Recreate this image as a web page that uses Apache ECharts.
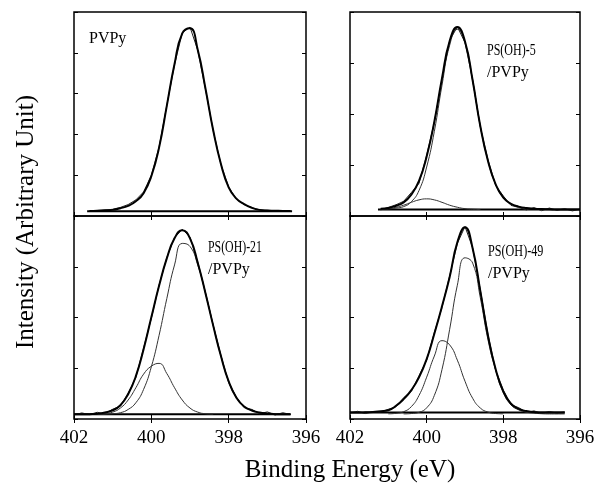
<!DOCTYPE html>
<html>
<head>
<meta charset="utf-8">
<script src="https://cdn.jsdelivr.net/npm/echarts/dist/echarts.min.js"></script>
<style>
html,body{margin:0;padding:0;background:#fff;}
#chart{width:594px;height:487px;}
</style>
</head>
<body>
<div id="chart"></div>
<script>
// binding energy grid (eV), shared by every panel
var energy = [402.0, 401.8, 401.6, 401.4, 401.2, 401.0, 400.8, 400.6, 400.4, 400.2,
	400.0, 399.8, 399.6, 399.4, 399.2, 399.0, 398.8, 398.6, 398.4, 398.2,
	398.0, 397.8, 397.6, 397.4, 397.2, 397.0, 396.8, 396.6, 396.4, 396.2, 396.0];
var xTicks = [402, 400, 398, 396];

// PVPy
var tlFit = [null, null, 2.5, 2.6, 2.8, 3.0, 3.8, 5.0, 7.2, 11.2, 19.5, 33.5, 54, 74.5, 89.5, 92, 81.5, 62.5, 42, 25.5, 14, 8.5, 5.8, 4.0, 3.0, 2.7, 2.6, 2.5, 2.5, null, null];
var tlRaw = [null, null, 2.4, 2.7, 2.9, 3.3, 4.2, 5.6, 7.9, 11.8, 20, 33.8, 54.2, 74.2, 89.8, 92.6, 81.3, 62.2, 41.8, 25.3, 14.2, 8.3, 5.6, 4.1, 3.0, 2.8, 2.5, 2.6, 2.5, null, null];
var tlBase = [[401.66, 2.3], [396.36, 2.3]];

// PS(OH)-5/PVPy
var trFit = [null, null, null, null, 3.5, 3.9, 5.0, 6.7, 10.5, 17.2, 29.2, 46.2, 67.6, 85.8, 92.6, 85.5, 66.4, 44, 27, 15.5, 9.0, 6.0, 4.6, 3.9, 3.6, 3.4, 3.3, 3.2, 3.2, 3.2, 3.2];
var trMain = [null, null, null, null, 3.4, 3.5, 3.9, 4.6, 7.0, 12.5, 24.0, 41.5, 64.1, 83.7, 91.5, 85.1, 66.2, 44, 27, 15.5, 9.0, 6.0, 4.6, 3.9, 3.6, 3.4, 3.3, 3.2, 3.2, 3.2, 3.2];
var trSide = [null, null, null, null, 3.35, 3.6, 4.3, 5.3, 6.7, 7.9, 8.4, 7.9, 6.7, 5.3, 4.3, 3.6, 3.35, 3.2, null, null, null, null, null, null, null, null, null, null, null, null, null];
var trRaw = [null, null, null, null, 3.0, 4.2, 5.5, 7.2, 11.5, 16.0, 29.8, 46.0, 67.0, 86.0, 92.8, 85.0, 66.8, 43.6, 27.5, 15.0, 9.8, 5.2, 4.2, 3.0, 4.1, 2.6, 3.9, 2.8, 3.6, 2.5, 3.4];
var trBase = [[401.27, 3.2], [396.0, 3.2]];

// PS(OH)-21/PVPy
var blFit = [2.3, 2.3, 2.4, 2.6, 3.2, 4.3, 6.8, 12.2, 21.1, 34.4, 50.1, 65.6, 79.1, 89.0, 93.0, 89.0, 77.0, 62.0, 46.0, 31.0, 18.5, 10.5, 6.2, 4.2, 3.2, 2.7, 2.4, 2.3, 2.3, null, null];
var blMain = [2.3, 2.3, 2.3, 2.3, 2.4, 2.6, 3.1, 4.7, 8.0, 14.6, 25.7, 41.2, 59.3, 75.9, 86.5, 85.0, 75.9, 62.0, 46.0, 31.0, 18.5, 10.5, 6.2, 4.2, 3.2, 2.7, 2.4, 2.3, 2.3, null, null];
var blSide = [null, null, null, 2.3, 2.6, 3.4, 5.4, 9.35, 15.4, 22.1, 26.0, 27.4, 22.4, 15.4, 9.35, 5.4, 3.4, 2.6, 2.4, null, null, null, null, null, null, null, null, null, null, null, null];
var blRaw = [2.0, 3.0, 2.2, 3.3, 2.6, 4.8, 6.4, 12.8, 20.5, 35.0, 49.6, 66.0, 79.5, 89.5, 93.5, 89.6, 77.4, 62.3, 46.3, 31.3, 18.0, 10.8, 5.6, 4.7, 2.6, 3.5, 2.0, 3.1, 2.2, null, null];
var blBase = [[402.0, 2.3], [396.4, 2.3]];

// PS(OH)-49/PVPy
var brFit = [3.2, 3.2, 3.3, 3.5, 3.8, 4.3, 6.5, 9.8, 14.2, 20.5, 29.5, 42, 55.5, 70, 87, 94.5, 84, 63, 41, 24.5, 13.5, 7.5, 5.0, 3.9, 3.4, 3.2, 3.2, 3.2, 3.2, null, null];
var brMain = [null, null, null, null, null, null, null, 2.5, 2.7, 3.3, 5.5, 11.6, 24.4, 44.2, 65.9, 79.4, 76.8, 59.7, 39, 24, 13, 7, 4.5, 3.4, 2.9, 2.6, 2.5, 2.5, 2.5, null, null];
var brSide = [null, null, null, null, null, 2.55, 2.8, 3.6, 6.1, 11.6, 20.6, 31.0, 38.6, 36.5, 29.0, 18.6, 10.2, 5.4, 3.4, 2.7, 2.55, null, null, null, null, null, null, null, null, null, null];
var brRaw = [3.0, 3.8, 2.7, 3.6, 3.5, 4.8, 6.0, 10.5, 13.6, 21.3, 29.0, 42.6, 55.0, 70.5, 86.5, 94.8, 84.3, 63.5, 41.5, 24.0, 14.3, 7.0, 5.6, 3.3, 4.0, 2.8, 3.7, 2.9, 3.5, null, null];
var brBase = [[402.0, 3.2], [396.4, 3.2]];

var yIntervals = [20, 25, 25, 25];

function pts(vals){
	return energy.map(function(e, k){ return [e, vals[k]]; });
}

var chart = echarts.init(document.getElementById('chart'));
var serif = '"Liberation Serif","DejaVu Serif",serif';

var grids = [
	{left: 74, top: 12, width: 232, height: 204},
	{left: 350, top: 12, width: 230, height: 204},
	{left: 74, top: 216, width: 232, height: 203},
	{left: 350, top: 216, width: 230, height: 203}
];
var tick = {show: true, inside: true, length: 4, lineStyle: {color: '#000', width: 1}};

var xAxes = [], yAxes = [];
grids.forEach(function(g, i){
	g.show = true;
	g.borderColor = '#000';
	g.borderWidth = 1.5;
	g.backgroundColor = 'transparent';
	g.outerBoundsMode = 'none';
	var bottomRow = i >= 2;
	xAxes.push({
		gridIndex: i, type: 'value', min: 396, max: 402, interval: 2, inverse: true, position: 'bottom',
		axisLine: {show: false}, axisTick: tick, splitLine: {show: false},
		axisLabel: {show: bottomRow, color: '#000', fontFamily: serif, fontSize: 19, margin: 10,
			showMinLabel: true, showMaxLabel: true, formatter: function(v){ return xTicks.indexOf(v) >= 0 ? String(v) : ''; }}
	});
	xAxes.push({
		gridIndex: i, type: 'value', min: 396, max: 402, interval: 2, inverse: true, position: 'top',
		axisLine: {show: false}, axisTick: tick, splitLine: {show: false}, axisLabel: {show: false}
	});
	yAxes.push({
		gridIndex: i, type: 'value', min: 0, max: 100, interval: yIntervals[i], position: 'left',
		axisLine: {show: false}, axisTick: tick, splitLine: {show: false}, axisLabel: {show: false}
	});
	yAxes.push({
		gridIndex: i, type: 'value', min: 0, max: 100, interval: yIntervals[i], position: 'right',
		axisLine: {show: false}, axisTick: tick, splitLine: {show: false}, axisLabel: {show: false}
	});
});

var series = [];
function addLine(i, data, width, smooth, color){
	series.push({
		type: 'line', xAxisIndex: 2 * i, yAxisIndex: 2 * i, data: data,
		showSymbol: false, smooth: smooth, connectNulls: false, silent: true,
		lineStyle: {color: color || '#000', width: width}
	});
}
var panels = [
	[tlBase, tlRaw, null, null, tlFit],
	[trBase, trRaw, trMain, trSide, trFit],
	[blBase, blRaw, blMain, blSide, blFit],
	[brBase, brRaw, brMain, brSide, brFit]
];
panels.forEach(function(p, i){
	addLine(i, p[0], 2, false);
	addLine(i, pts(p[1]), 1, false, '#222');
	if (p[2]) addLine(i, pts(p[2]), 1, true, '#333');
	if (p[3]) addLine(i, pts(p[3]), 1, true, '#333');
	addLine(i, pts(p[4]), 2, true);
});

// sample names inside the panels
function label(text, x, y, sx){
	return {type: 'text', x: x, y: y, scaleX: sx || 1, z: 10,
		style: {text: text, x: 0, y: 0, fill: '#000', font: '16px ' + serif, textAlign: 'left', textVerticalAlign: 'middle'}};
}

chart.setOption({
	animation: false,
	backgroundColor: '#fff',
	grid: grids,
	xAxis: xAxes,
	yAxis: yAxes,
	series: series,
	graphic: [
		label('PVPy', 89, 39),
		label('PS(OH)-5', 487, 51, 0.75),
		label('/PVPy', 487, 73),
		label('PS(OH)-21', 208, 248, 0.74),
		label('/PVPy', 208, 270),
		label('PS(OH)-49', 488, 252, 0.76),
		label('/PVPy', 488, 274),
		{type: 'text', x: 350, y: 470,
			style: {text: 'Binding Energy (eV)', fill: '#000', font: '25px ' + serif, textAlign: 'center', textVerticalAlign: 'middle'}},
		{type: 'text', x: 26, y: 222, rotation: Math.PI / 2,
			style: {text: 'Intensity (Arbitrary Unit)', fill: '#000', font: '25px ' + serif, textAlign: 'center', textVerticalAlign: 'middle'}}
	]
});
</script>
</body>
</html>
